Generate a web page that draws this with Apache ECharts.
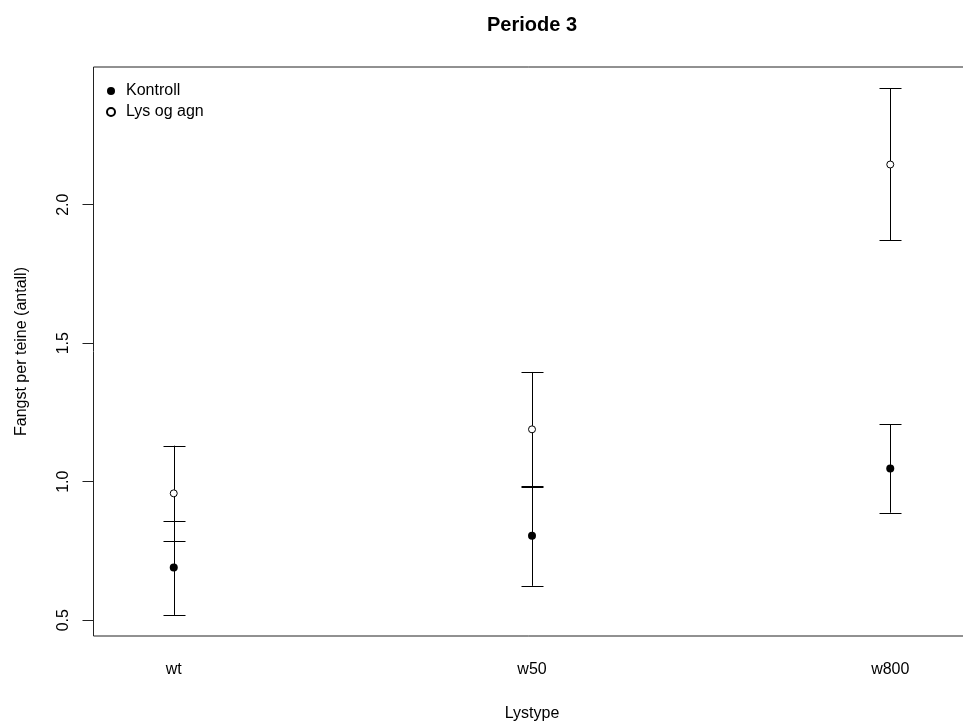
<!DOCTYPE html>
<html>
<head>
<meta charset="utf-8">
<script src="https://cdn.jsdelivr.net/npm/echarts@6/dist/echarts.min.js"></script>
<style>
html,body{margin:0;padding:0;background:#fff;}
#chart{width:963px;height:722px;}
</style>
</head>
<body>
<div id="chart"></div>
<script>
// Data
const categories = ['wt', 'w50', 'w800'];
const categoryPositions = [1, 2, 3];
const kontrollMean = [0.690, 0.805, 1.048];
const kontrollLow  = [0.519, 0.624, 0.888];
const kontrollHigh = [0.858, 0.985, 1.208];
const lysMean = [0.958, 1.189, 2.145];
const lysLow  = [0.786, 0.982, 1.872];
const lysHigh = [1.130, 1.396, 2.421];
const yTicks = [0.5, 1.0, 1.5, 2.0];

const FONT = "'Liberation Sans', Arial, sans-serif";

function errData(lo, hi) {
  return categoryPositions.map((x, i) => [x, lo[i], hi[i]]);
}
function ptData(m) {
  return categoryPositions.map((x, i) => [x, m[i]]);
}
function renderErr(params, api) {
  const x = api.value(0), lo = api.value(1), hi = api.value(2);
  const a = api.coord([x, lo]);
  const b = api.coord([x, hi]);
  const hw = 11;
  const st = { stroke: '#000', lineWidth: 1 };
  const cx = Math.round(a[0]) + 0.5;
  return {
    type: 'group',
    children: [
      { type: 'line', shape: { x1: cx, y1: a[1], x2: cx, y2: b[1] }, style: st },
      { type: 'line', shape: { x1: cx - hw, y1: Math.round(a[1]) + 0.5, x2: cx + hw, y2: Math.round(a[1]) + 0.5 }, style: st },
      { type: 'line', shape: { x1: cx - hw, y1: Math.round(b[1]) + 0.5, x2: cx + hw, y2: Math.round(b[1]) + 0.5 }, style: st }
    ]
  };
}

const chart = echarts.init(document.getElementById('chart'), null, { renderer: 'canvas' });
chart.setOption({
  animation: false,
  backgroundColor: '#fff',
  textStyle: { fontFamily: FONT, color: '#000' },
  title: {
    text: 'Periode 3',
    left: 487, top: 15, padding: 0,
    textStyle: { fontFamily: FONT, fontSize: 20, fontWeight: 'bold', color: '#000' }
  },
  legend: {
    orient: 'vertical',
    left: 106, top: 83,
    itemWidth: 8, itemHeight: 8, itemGap: 5,
    padding: 0,
    data: [{ name: 'Kontroll', icon: 'circle' }, { name: 'Lys og agn', icon: 'circle' }],
    textStyle: { fontFamily: FONT, fontSize: 16, color: '#000', padding: [0, 0, 0, 6] }
  },
  grid: {
    left: 93.5, top: 67, width: 877, height: 569,
    outerBoundsMode: 'none',
    containLabel: false,
    show: true, borderColor: '#222', borderWidth: 1, backgroundColor: 'transparent'
  },
  xAxis: {
    type: 'value',
    min: 0.776, max: 3.224,
    name: 'Lystype',
    nameLocation: 'middle', nameGap: 70,
    nameTextStyle: { fontFamily: FONT, fontSize: 16, color: '#000' },
    axisLine: { show: false },
    axisTick: { show: false },
    splitLine: { show: false },
    axisLabel: {
      customValues: categoryPositions,
      margin: 26,
      fontFamily: FONT, fontSize: 16, color: '#000',
      formatter: v => categories[Math.round(v) - 1]
    }
  },
  yAxis: {
    type: 'value',
    min: 0.443, max: 2.497,
    name: 'Fangst per teine (antall)',
    nameLocation: 'middle', nameGap: 64, nameRotate: 90,
    nameTextStyle: { fontFamily: FONT, fontSize: 16, color: '#000' },
    axisLine: { show: false },
    axisTick: { show: true, customValues: yTicks, length: 11, lineStyle: { color: '#222' } },
    splitLine: { show: false },
    axisLabel: {
      customValues: yTicks,
      rotate: 90,
      margin: 22,
      fontFamily: FONT, fontSize: 16, color: '#000',
      formatter: v => v.toFixed(1)
    }
  },
  series: [
    { name: 'Kontroll-ci', type: 'custom', renderItem: renderErr, data: errData(kontrollLow, kontrollHigh), encode: { x: 0, y: [1, 2] }, z: 1 },
    { name: 'Lys og agn-ci', type: 'custom', renderItem: renderErr, data: errData(lysLow, lysHigh), encode: { x: 0, y: [1, 2] }, z: 1 },
    { name: 'Kontroll', type: 'scatter', symbol: 'circle', symbolSize: 8, data: ptData(kontrollMean), itemStyle: { color: '#000', opacity: 1 }, z: 3 },
    { name: 'Lys og agn', type: 'scatter', symbol: 'circle', symbolSize: 7, data: ptData(lysMean), itemStyle: { color: '#fff', borderColor: '#000', borderWidth: 1, opacity: 1 }, z: 3 }
  ]
});
</script>
</body>
</html>
